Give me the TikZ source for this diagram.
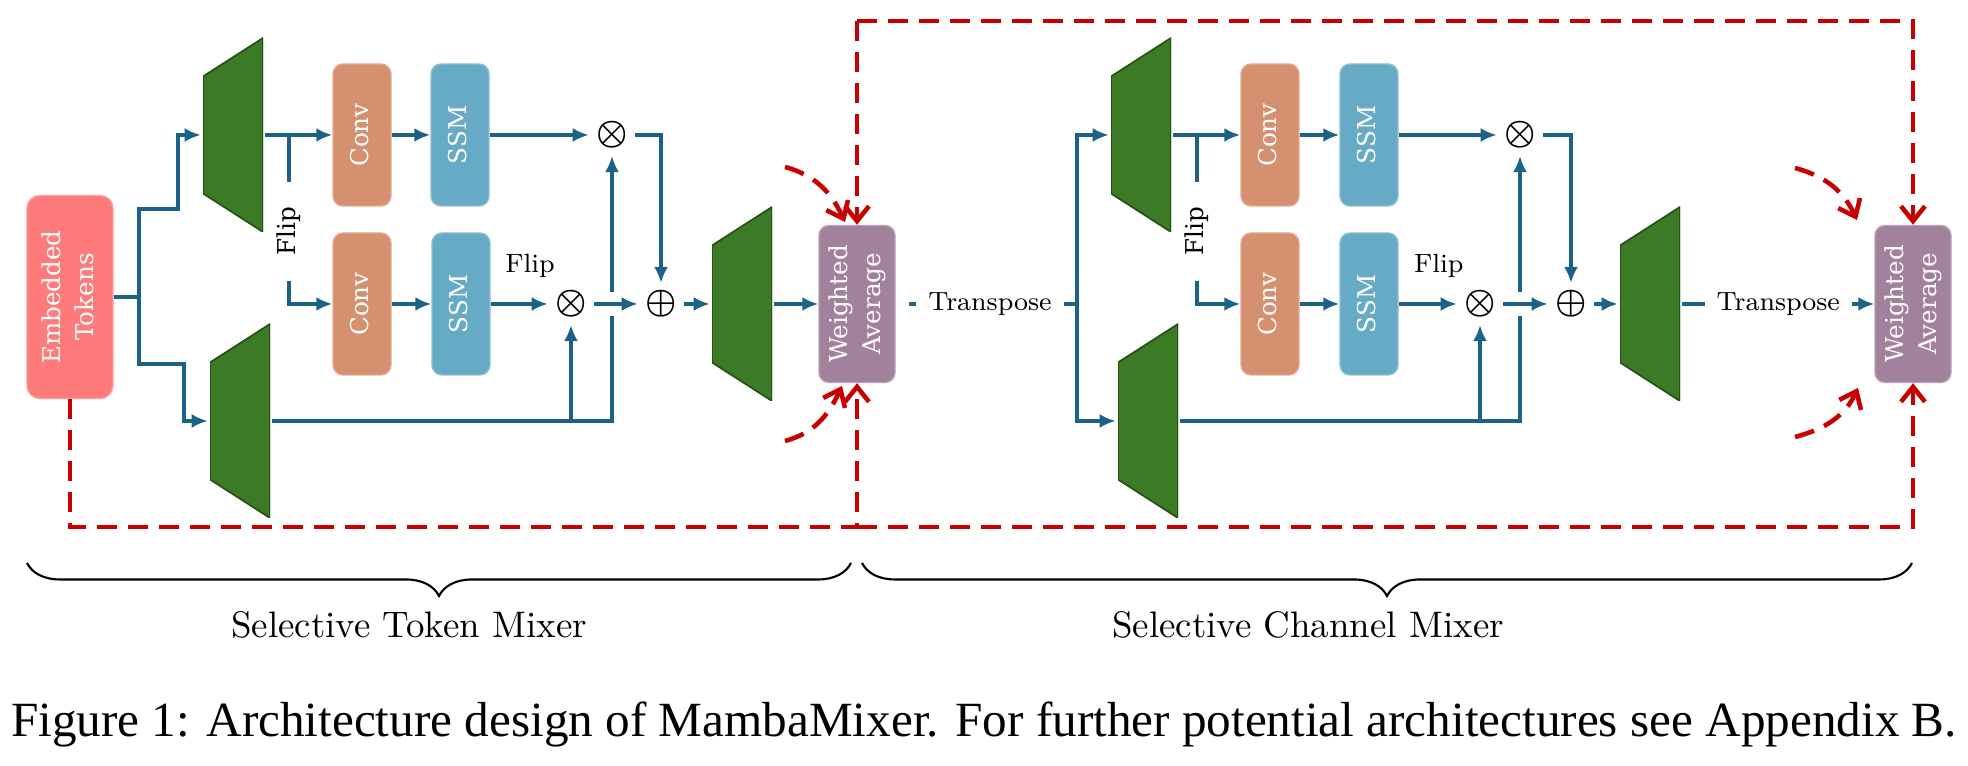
\documentclass[tikz,border=0pt]{standalone}
\usepackage{fontspec}
\usepackage{amsmath}
\usepackage{tikz}
\usetikzlibrary{positioning}
\usetikzlibrary{arrows.meta}
\usetikzlibrary{decorations.pathreplacing}

\newfontfamily\slabfont{DejaVu Serif}
\newfontfamily\figcapfont{Liberation Serif}

\definecolor{tokenred}{RGB}{255,123,123}
\definecolor{convorange}{RGB}{213,145,111}
\definecolor{ssmblue}{RGB}{103,170,197}
\definecolor{avgpurple}{RGB}{161,129,156}
\definecolor{projgreen}{RGB}{61,122,37}
\definecolor{projdark}{RGB}{38,82,22}
\definecolor{flowblue}{RGB}{27,98,134}
\definecolor{resred}{RGB}{200,0,0}

\newcommand{\uprot}[1]{\rotatebox{90}{\begin{tabular}{@{}c@{}}#1\end{tabular}}}

\begin{document}
\begin{tikzpicture}
[line width=1.3pt,%
  box/.style={rounded corners=1mm,inner sep=0pt,text=white,line width=0.4pt,%
    minimum width=0.58cm,minimum height=1.42cm,%
    font=\slabfont\fontsize{7}{9.4}\selectfont},%
  tokens/.style={box,fill=tokenred,draw=tokenred!75!white,rounded corners=1.3mm,%
    minimum width=0.86cm,minimum height=2.03cm},%
  conv/.style={box,fill=convorange,draw=convorange!75!white},%
  ssm/.style={box,fill=ssmblue,draw=ssmblue!75!white},%
  wavg/.style={box,fill=avgpurple,draw=avgpurple!75!white,%
    minimum width=0.76cm,minimum height=1.57cm},%
  proj/.style={minimum width=0.6cm,minimum height=1.94cm,inner sep=0pt,%
    path picture={\filldraw[fill=projgreen,draw=projdark,line width=0.5pt]
      (path picture bounding box.south east)
      -- (path picture bounding box.north east)
      -- ([yshift=-0.385cm]path picture bounding box.north west)
      -- ([yshift=0.385cm]path picture bounding box.south west) -- cycle;}},%
  op/.style={inner sep=1.5pt,font=\normalsize},%
  pipe/.style={draw=flowblue},%
  flow/.style={pipe,-{Latex[length=1.6mm,width=1.4mm]}},%
  bridge/.style={preaction={draw=white,line width=7pt,-}},%
  resid/.style={draw=resred,dash pattern=on 2mm off 1.1mm,%
    -{Straight Barb[length=1.5mm,width=2.4mm]}},%
  flipv/.style={rotate=90,fill=white,inner xsep=2.5mm,inner ysep=1pt,%
    font=\slabfont\fontsize{7}{8}\selectfont},%
  fliph/.style={font=\fontsize{7.5}{9}\selectfont},%
  tlabel/.style={fill=white,inner xsep=1.2mm,inner ysep=1pt,%
    font=\fontsize{7.5}{9}\selectfont},%
  brace/.style={decorate,decoration={brace,mirror,amplitude=3.3mm},line width=0.6pt},%
  mixlabel/.style={anchor=base,font=\fontsize{10.5}{12.6}\selectfont}]
\useasboundingbox (0,0) rectangle (19.68,7.66);

% token mixer
\node[tokens] (tok) at (0.70,4.69) {\uprot{Embedded\\Tokens}};
\node[proj] (up1a) at (2.33,6.31) {};
\node[proj] (up1b) at (2.40,3.45) {};
\node[conv] (conv1a) at (3.62,6.31) {\uprot{Conv}};
\node[ssm] (ssm1a) at (4.60,6.31) {\uprot{SSM}};
\node[conv] (conv1b) at (3.62,4.62) {\uprot{Conv}};
\node[ssm] (ssm1b) at (4.61,4.62) {\uprot{SSM}};
\node[op] (mul1a) at (6.12,6.31) {$\boldsymbol{\otimes}$};
\node[op] (mul1b) at (5.71,4.62) {$\boldsymbol{\otimes}$};
\node[op] (add1) at (6.61,4.62) {$\boldsymbol{\oplus}$};
\node[proj] (down1) at (7.42,4.62) {};
\node[wavg] (avg1) at (8.57,4.62) {\uprot{Weighted\\Average}};

% channel mixer
\node[proj] (up2a) at (11.41,6.31) {};
\node[proj] (up2b) at (11.48,3.45) {};
\node[conv] (conv2a) at (12.70,6.31) {\uprot{Conv}};
\node[ssm] (ssm2a) at (13.69,6.31) {\uprot{SSM}};
\node[conv] (conv2b) at (12.70,4.62) {\uprot{Conv}};
\node[ssm] (ssm2b) at (13.69,4.62) {\uprot{SSM}};
\node[op] (mul2a) at (15.20,6.31) {$\boldsymbol{\otimes}$};
\node[op] (mul2b) at (14.80,4.62) {$\boldsymbol{\otimes}$};
\node[op] (add2) at (15.71,4.62) {$\boldsymbol{\oplus}$};
\node[proj] (down2) at (16.50,4.62) {};
\node[wavg] (avg2) at (19.13,4.62) {\uprot{Weighted\\Average}};

\coordinate (fork1) at (1.39,4.69);
\coordinate (fork2) at (10.77,4.62);
\coordinate (flip1) at (2.89,6.31);
\coordinate (flip2) at (11.97,6.31);
\coordinate (resbot) at (8.57,2.39);
\coordinate (restop) at (8.57,7.45);
\coordinate (in1a) at (7.85,5.99);
\coordinate (in1b) at (7.85,3.25);
\coordinate (to1a) at (8.45,5.44);
\coordinate (to1b) at (8.42,3.80);
\coordinate (in2a) at (17.95,5.98);
\coordinate (in2b) at (17.95,3.29);
\coordinate (to2a) at (18.57,5.46);
\coordinate (to2b) at (18.58,3.78);

% token mixer flow
\draw[flow] (tok.east) -- (fork1) -- ++(0,0.88) -- ++(0.39,0) |- (up1a.west);
\draw[flow] (fork1) -- ++(0,-0.67) -- ++(0.45,0) |- (up1b.west);
\draw[flow] (up1a.east) -- (conv1a.west);
\draw[flow] (conv1a.east) -- (ssm1a.west);
\draw[flow] (ssm1a.east) -- (mul1a.west);
\draw[flow] (flip1) -- node[flipv,pos=0.57] {Flip} (flip1 |- conv1b.west) -- (conv1b.west);
\draw[flow] (conv1b.east) -- (ssm1b.west);
\draw[flow] (ssm1b.east) -- node[fliph,pos=0.69,above=1.2mm] {Flip} (mul1b.west);
\draw[flow] (up1b.east) -| (mul1a.south);
\draw[flow] (mul1b |- up1b.east) -- (mul1b.south);
\draw[flow,bridge] (mul1b.east) -- (add1.west);
\draw[flow] (mul1a.east) -| (add1.north);
\draw[flow] (add1.east) -- (down1.west);
\draw[flow] (down1.east) -- (avg1.west);

% channel mixer flow
\draw[pipe,shorten <=1.3mm] (avg1.east) -- node[tlabel,pos=0.52] {Transpose} (fork2);
\draw[flow] (fork2) |- (up2a.west);
\draw[flow] (fork2) |- (up2b.west);
\draw[flow] (up2a.east) -- (conv2a.west);
\draw[flow] (conv2a.east) -- (ssm2a.west);
\draw[flow] (ssm2a.east) -- (mul2a.west);
\draw[flow] (flip2) -- node[flipv,pos=0.57] {Flip} (flip2 |- conv2b.west) -- (conv2b.west);
\draw[flow] (conv2b.east) -- (ssm2b.west);
\draw[flow] (ssm2b.east) -- node[fliph,pos=0.69,above=1.2mm] {Flip} (mul2b.west);
\draw[flow] (up2b.east) -| (mul2a.south);
\draw[flow] (mul2b |- up2b.east) -- (mul2b.south);
\draw[flow,bridge] (mul2b.east) -- (add2.west);
\draw[flow] (mul2a.east) -| (add2.north);
\draw[flow] (add2.east) -- (down2.west);
\draw[flow] (down2.east) -- node[tlabel] {Transpose} (avg2.west);

% residual paths
\draw[resid] (tok.south) |- (resbot) -- (avg1.south);
\draw[resid] (resbot) -| (avg2.south);
\draw[resid] (restop) -- (avg1.north);
\draw[resid] (restop) -| (avg2.north);
\draw[resid] (in1a) to[out=-15,in=115] (to1a);
\draw[resid] (in1b) to[out=15,in=-115] (to1b);
\draw[resid] (in2a) to[out=-15,in=115] (to2a);
\draw[resid] (in2b) to[out=15,in=-115] (to2b);

% braces
\draw[brace] (0.27,2.03) -- (8.51,2.03);
\draw[brace] (8.62,2.03) -- (19.12,2.03);
\node[mixlabel] (tokmix) at (4.09,1.28) {Selective Token Mixer};
\node[mixlabel] (chanmix) at (13.08,1.28) {Selective Channel Mixer};

\node[anchor=base,font=\figcapfont\fontsize{14}{16}\selectfont] (cap) at (9.84,0.29)
  {Figure 1: Architecture design of MambaMixer. For further potential architectures see Appendix B.};
\end{tikzpicture}
\end{document}
